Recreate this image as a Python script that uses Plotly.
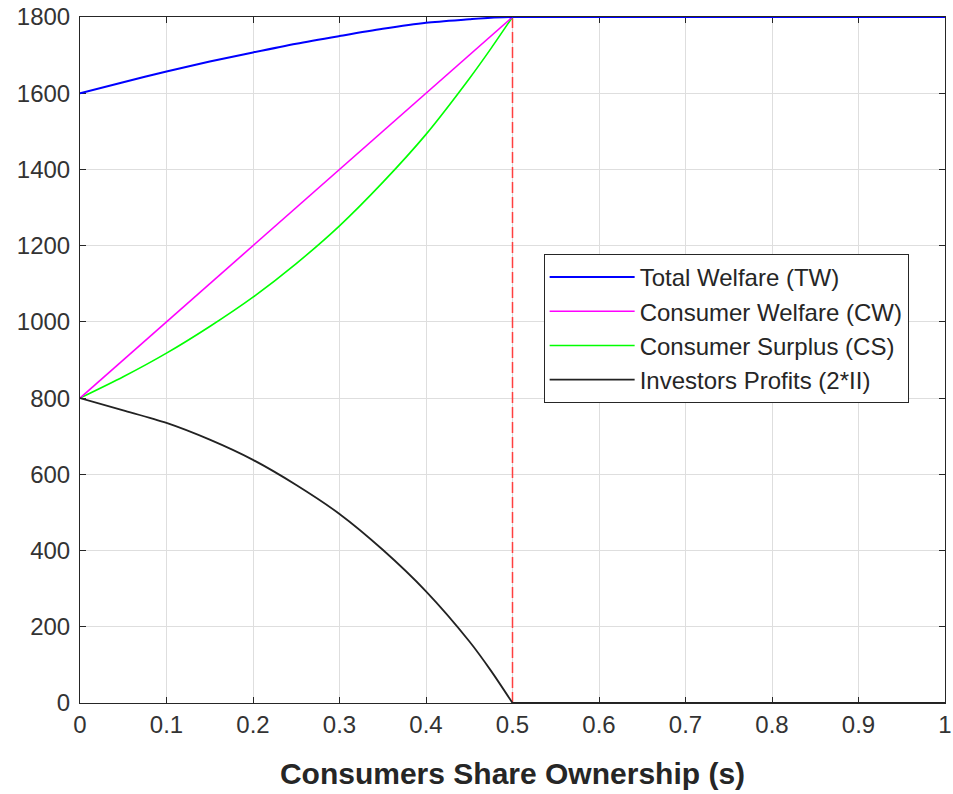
import plotly.graph_objects as go

# Consumers share ownership (s), up to the threshold s = 0.5
s = [0, 0.05, 0.1, 0.15, 0.2, 0.25, 0.3, 0.35, 0.4, 0.45, 0.475, 0.5]

tw = [1600, 1629, 1657, 1683, 1707, 1730, 1750, 1769, 1785, 1794, 1798, 1800]
cw = [800, 900, 1000, 1100, 1200, 1300, 1400, 1500, 1600, 1700, 1750, 1800]
cs = [800, 856, 918, 988, 1065, 1153, 1252, 1366, 1492, 1638, 1717, 1800]
inv = [800, 768, 735, 691, 638, 572, 496, 402, 293, 162, 85, 0]

# beyond the threshold (s from 0.5 to 1)
s_tail = [0.5, 1.0]
tw_tail = [1800, 1800]
inv_tail = [0, 0]

s_star = [0.5, 0.5]
s_star_y = [0, 1800]

x_ticks = [0, 0.1, 0.2, 0.3, 0.4, 0.5, 0.6, 0.7, 0.8, 0.9, 1]
x_tick_text = ["0", "0.1", "0.2", "0.3", "0.4", "0.5", "0.6", "0.7", "0.8", "0.9", "1"]
y_ticks = [0, 200, 400, 600, 800, 1000, 1200, 1400, 1600, 1800]

names = ["Total Welfare (TW)", "Consumer Welfare (CW)",
         "Consumer Surplus (CS)", "Investors Profits (2*II)"]

FONT = "Liberation Sans, Arial, sans-serif"
BLUE, MAG, GRN, BLK = "#0000ff", "#ff00ff", "#00ff00", "#222222"

fig = go.Figure()
fig.add_trace(go.Scatter(x=s_star, y=s_star_y, mode="lines", showlegend=False,
                         line=dict(color="#ff4040", width=1.5, dash="11px,4px")))
fig.add_trace(go.Scatter(x=s, y=cs, mode="lines", name=names[2], legendrank=3,
                         legendgroup="cs",
                         line=dict(color=GRN, width=1.6, shape="spline", smoothing=0.8)))
fig.add_trace(go.Scatter(x=s, y=cw, mode="lines", name=names[1], legendrank=2,
                         legendgroup="cw",
                         line=dict(color=MAG, width=1.6)))
fig.add_trace(go.Scatter(x=s, y=tw, mode="lines", name=names[0], legendrank=1,
                         legendgroup="tw", cliponaxis=False,
                         line=dict(color=BLUE, width=2, shape="spline", smoothing=0.8)))
fig.add_trace(go.Scatter(x=s_tail, y=tw_tail, mode="lines", showlegend=False,
                         legendgroup="tw", cliponaxis=False,
                         line=dict(color=BLUE, width=2)))
fig.add_trace(go.Scatter(x=s, y=inv, mode="lines", name=names[3], legendrank=4,
                         legendgroup="inv",
                         line=dict(color=BLK, width=1.8, shape="spline", smoothing=0.8)))
fig.add_trace(go.Scatter(x=s_tail, y=inv_tail, mode="lines", showlegend=False,
                         legendgroup="inv", cliponaxis=False,
                         line=dict(color=BLK, width=2.2)))

axis_common = dict(
    showline=True, linecolor="#262626", linewidth=1, mirror="ticks",
    ticks="inside", ticklen=6, tickcolor="#262626", tickwidth=1,
    showgrid=True, gridcolor="#dedede", gridwidth=1, zeroline=False,
    tickfont=dict(family=FONT, size=24, color="#333333"),
    automargin=False, ticklabeloverflow="allow", layer="below traces",
)

fig.update_layout(
    width=953, height=794,
    margin=dict(l=80, r=8, t=17, b=91),
    paper_bgcolor="white", plot_bgcolor="white",
    xaxis=dict(range=[0, 1], tickvals=x_ticks, ticktext=x_tick_text,
               title=dict(text="<b>Consumers Share Ownership (s)</b>",
                          font=dict(family=FONT, size=30, color="#262626"),
                          standoff=26),
               **axis_common),
    yaxis=dict(range=[0, 1800], tickvals=y_ticks, ticklabelstandoff=4,
               **axis_common),
    legend=dict(x=0.536, y=0.6545, xanchor="left", yanchor="top",
                bgcolor="white", bordercolor="#262626", borderwidth=1,
                font=dict(family=FONT, size=24, color="#262626"),
                tracegroupgap=0, traceorder="grouped", itemwidth=85),
    showlegend=True,
)

# remove the default page margin so the figure fills the window exactly
fig.write_html("out.html", config={"displayModeBar": False},
               post_script="document.body.style.margin='0';document.body.style.overflow='hidden';")
